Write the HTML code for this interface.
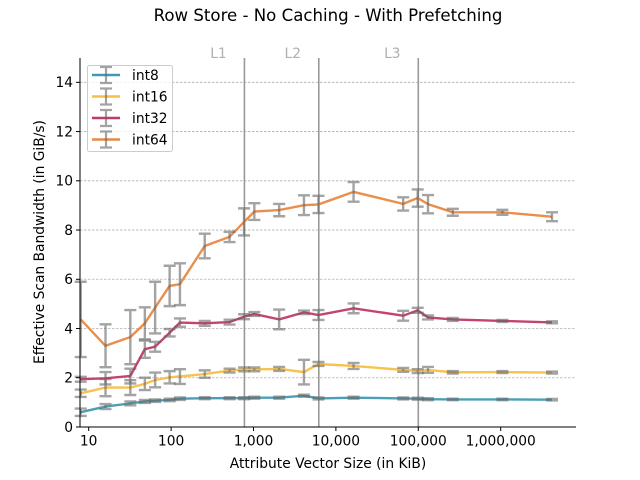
<!DOCTYPE html>
<html><head><meta charset="utf-8"><style>
body{margin:0;background:#fff;}
svg{display:block;font-family:"DejaVu Sans","Liberation Sans",sans-serif;}
</style></head><body>
<svg id="chart" width="640" height="480" viewBox="0 0 640 480">
<text x="328" y="21" font-size="16.6" text-anchor="middle" fill="#000">Row Store - No Caching - With Prefetching</text>
<g id="grid"></g><g id="cache"></g><g id="series"></g><g id="axes"></g>
<text x="328" y="468" font-size="13.8" text-anchor="middle">Attribute Vector Size (in KiB)</text>
<text transform="translate(44,242) rotate(-90)" font-size="13.8" text-anchor="middle">Effective Scan Bandwidth (in GiB/s)</text>
<g id="legend"></g>
</svg>
<script>
const sizes=[8,16,32,48,64,96,128,256,512,768,1024,2048,4096,6144,16384,65536,98304,131072,262144,1048576,4194304];
const int8=[0.6,0.83,0.96,1.04,1.07,1.1,1.15,1.17,1.17,1.17,1.19,1.19,1.27,1.16,1.19,1.16,1.15,1.13,1.12,1.12,1.11];
const int8Err=[0.15,0.1,0.08,0.06,0.05,0.05,0.05,0.04,0.04,0.04,0.04,0.04,0.04,0.04,0.04,0.04,0.04,0.04,0.03,0.03,0.03];
const int16=[1.37,1.6,1.6,1.75,1.91,2.02,2.05,2.15,2.29,2.34,2.34,2.36,2.23,2.56,2.48,2.32,2.27,2.32,2.22,2.23,2.21];
const int16Err=[0.15,0.35,0.3,0.25,0.3,0.25,0.3,0.15,0.08,0.08,0.08,0.08,0.5,0.08,0.12,0.08,0.08,0.12,0.05,0.04,0.04];
const int32=[1.94,1.98,2.07,3.16,3.26,3.83,4.24,4.21,4.26,4.48,4.59,4.37,4.66,4.55,4.82,4.52,4.74,4.45,4.37,4.31,4.25];
const int32Err=[0.1,0.25,0.3,0.35,0.2,0.15,0.17,0.1,0.1,0.1,0.08,0.4,0.07,0.2,0.2,0.2,0.1,0.08,0.06,0.04,0.04];
const int64=[4.37,3.3,3.65,4.21,4.85,5.73,5.8,7.35,7.72,8.33,8.75,8.81,9.01,9.04,9.55,9.06,9.3,9.05,8.72,8.72,8.54];
const int64Err=[1.53,0.87,1.1,0.65,1.05,0.82,0.85,0.5,0.21,0.55,0.34,0.25,0.4,0.35,0.4,0.27,0.35,0.37,0.14,0.1,0.18];
const yTicks=[0,2,4,6,8,10,12,14];
const xTicks=[10,100,1000,10000,100000,1000000];
const xTickLabels=["10","100","1,000","10,000","100,000","1,000,000"];
const cacheSizes=[776,6200,100000];
const cacheLabels=["L1","L2","L3"];
const NS="http://www.w3.org/2000/svg";
const L=80,R=576,T=58,B=427;
function xs(v){return 88.7+(Math.log10(v)-1)*82.4;}
function ys(v){return B-v*24.62;}
function mk(tag,attrs,parent){const e=document.createElementNS(NS,tag);for(const k in attrs)e.setAttribute(k,attrs[k]);parent.appendChild(e);return e;}
const grid=document.getElementById('grid'),axes=document.getElementById('axes'),cache=document.getElementById('cache'),ser=document.getElementById('series'),leg=document.getElementById('legend');
yTicks.forEach(t=>{
 if(t>0){const g=mk('line',{x1:L,x2:R,y1:ys(t),y2:ys(t),stroke:'#b0b0b0','stroke-width':0.8,'stroke-dasharray':'2.5,1.5'},grid);
 
 }
 const tk=mk('line',{x1:L-4,x2:L,y1:ys(t),y2:ys(t),stroke:'#000','stroke-width':1},axes);
 
 
 const tx=mk('text',{x:L-7,y:ys(t)+4.8,'font-size':13.8,'text-anchor':'end'},axes);tx.textContent=t;
 
 
});
xTicks.forEach((t,i)=>{
 const tk=mk('line',{x1:xs(t),x2:xs(t),y1:B,y2:B+4,stroke:'#000','stroke-width':1},axes);
 
 
 const tx=mk('text',{x:xs(t),y:B+18.5,'font-size':13.8,'text-anchor':'middle'},axes);tx.textContent=xTickLabels[i];
 
 
});
const sp1=mk('line',{x1:L,x2:L,y1:T,y2:B,stroke:'#000','stroke-width':1},axes);


const sp2=mk('line',{x1:L,x2:R,y1:B,y2:B,stroke:'#000','stroke-width':1},axes);


cacheSizes.forEach((c,i)=>{
 const ln=mk('line',{x1:xs(c),x2:xs(c),y1:T,y2:B,stroke:'#999','stroke-width':1.6},cache);
 
 
 const tx=mk('text',{x:xs(c)-26,y:58,'font-size':13.8,fill:'#b0b0b0','text-anchor':'middle'},cache);tx.textContent=cacheLabels[i];
 
 
});
const series=[["int8",int8,int8Err,"#3f9ab4"],["int16",int16,int16Err,"#f7bf45"],["int32",int32,int32Err,"#c03a69"],["int64",int64,int64Err,"#e98843"]];
series.forEach(([name,vals,errs,col],si)=>{
 const g=mk('g',{},ser);
 
 
 const pts=sizes.map((s,i)=>xs(s).toFixed(1)+','+ys(vals[i]).toFixed(1)).join(' ');
 const pl=mk('polyline',{points:pts,fill:'none',stroke:col,'stroke-width':2.4,opacity:0.95},g);
 
 
 sizes.forEach((s,i)=>{
  const x=xs(s),y1=ys(vals[i]+errs[i]),y2=ys(vals[i]-errs[i]);
  const eb=mk('path',{d:`M${x},${y1}V${y2}M${x-6},${y1}H${x+6}M${x-6},${y2}H${x+6}`,stroke:'#666','stroke-width':2.4,fill:'none',opacity:0.6},g);
  
  
 });
 const ly=75+si*21.5;
 const lg=mk('g',{},leg);
 
 
 mk('line',{x1:92,x2:120,y1:ly,y2:ly,stroke:col,'stroke-width':2.4},lg);
 mk('path',{d:`M106,${ly-8}V${ly+8}M100,${ly-8}H112M100,${ly+8}H112`,stroke:'#666','stroke-width':2.2,opacity:0.6,fill:'none'},lg);
 const tx=mk('text',{x:132,y:ly+4.8,'font-size':13.8},lg);tx.textContent=name;
});
const box=mk('rect',{x:87.5,y:65.5,width:85,height:86,rx:2,fill:'#fff','fill-opacity':0.8,stroke:'#ccc'},leg);
leg.insertBefore(box,leg.firstChild);
</script>
</body></html>
